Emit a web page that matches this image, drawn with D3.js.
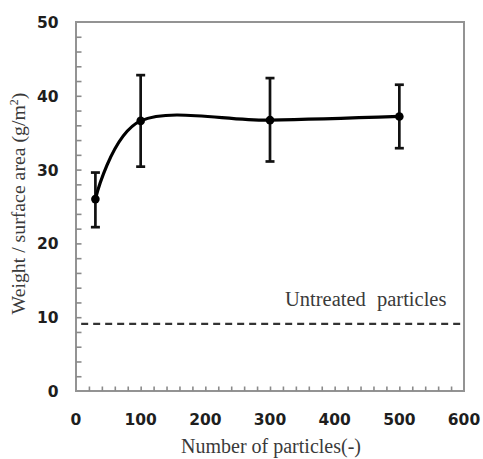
<!DOCTYPE html>
<html>
<head>
<meta charset="utf-8">
<script src="https://cdn.jsdelivr.net/npm/d3@7"></script>
<style>
  html, body { margin: 0; padding: 0; background: #fff; }
  svg { display: block; }
</style>
</head>
<body>
<svg id="chart" width="483" height="459"></svg>
<script>
// ---- data ----
const particles = [30, 100, 300, 500];
const weightPerArea = [26.0, 36.6, 36.7, 37.2];
const errLow = [22.2, 30.4, 31.1, 32.9];
const errHigh = [29.6, 42.8, 42.4, 41.5];
const untreatedValue = 9.1;
const xTickLabels = [0, 100, 200, 300, 400, 500, 600];
const yTickLabels = [0, 10, 20, 30, 40, 50];
const xTitle = "Number of particles(-)";
const yTitle = "Weight / surface area (g/m";
const untreatedLabel = ["Untreated", "particles"];

// ---- layout ----
const svg = d3.select("#chart");
const x = d3.scaleLinear().domain([0, 600]).range([76, 464]);
const y = d3.scaleLinear().domain([0, 50]).range([391, 22]);
const axisColor = "#939393";
const serif = "'Liberation Serif', 'Times New Roman', serif";
const sans = "'DejaVu Sans', Verdana, sans-serif";

// frame
svg.append("rect")
  .attr("x", x(0)).attr("y", y(50))
  .attr("width", x(600) - x(0)).attr("height", y(0) - y(50))
  .attr("fill", "none").attr("stroke", axisColor).attr("stroke-width", 2);

// minor ticks (inward)
const gx = svg.append("g").attr("transform", `translate(0,${y(0)})`)
  .call(d3.axisBottom(x).tickValues(d3.range(20, 600, 20)).tickSize(-4.5).tickFormat(""));
const gy = svg.append("g").attr("transform", `translate(${x(0)},0)`)
  .call(d3.axisLeft(y).tickValues(d3.range(2, 50, 2)).tickSize(-5.5).tickFormat(""));
[gx, gy].forEach(g => {
  g.select(".domain").remove();
  g.selectAll(".tick line").attr("stroke", "#8a8a8a").attr("stroke-width", 1.6);
});

// tick labels
svg.append("g").selectAll("text").data(xTickLabels).join("text")
  .attr("x", d => x(d)).attr("y", 424.5)
  .attr("text-anchor", "middle")
  .attr("font-family", sans).attr("font-weight", "bold").attr("font-size", 15.5)
  .attr("fill", "#1e1e1e")
  .text(d => d);
svg.append("g").selectAll("text").data(yTickLabels).join("text")
  .attr("x", 58.5).attr("y", d => y(d) + 6)
  .attr("text-anchor", "end")
  .attr("font-family", sans).attr("font-weight", "bold").attr("font-size", 15.5)
  .attr("fill", "#1e1e1e")
  .text(d => d);

// axis titles
svg.append("text")
  .attr("x", (x(0) + x(600)) / 2 + 1).attr("y", 453)
  .attr("text-anchor", "middle")
  .attr("font-family", serif).attr("font-size", 20).attr("fill", "#3a3a3a")
  .text(xTitle);
const yt = svg.append("text")
  .attr("transform", `translate(25,${(y(0) + y(50)) / 2 - 3}) rotate(-90)`)
  .attr("text-anchor", "middle")
  .attr("font-family", serif).attr("font-size", 19.8).attr("fill", "#3a3a3a");
yt.append("tspan").text(yTitle);
yt.append("tspan").attr("baseline-shift", "super").attr("font-size", 12).text("2");
yt.append("tspan").text(")");

// untreated dashed line
svg.append("line")
  .attr("x1", x(8)).attr("x2", x(600))
  .attr("y1", y(untreatedValue)).attr("y2", y(untreatedValue))
  .attr("stroke", "#333").attr("stroke-width", 2.4)
  .attr("stroke-dasharray", "7,5");
svg.append("text").attr("x", 285).attr("y", 306)
  .attr("font-family", serif).attr("font-size", 20.5).attr("fill", "#3a3a3a")
  .text(untreatedLabel[0]);
svg.append("text").attr("x", 377).attr("y", 306)
  .attr("font-family", serif).attr("font-size", 20.5).attr("fill", "#3a3a3a")
  .text(untreatedLabel[1]);

// data
const pts = particles.map((p, i) => ({ p, v: weightPerArea[i], lo: errLow[i], hi: errHigh[i] }));

// error bars
const eb = svg.append("g").attr("stroke", "#111").attr("stroke-width", 2.7);
eb.selectAll("line.v").data(pts).join("line").attr("class", "v")
  .attr("x1", d => x(d.p)).attr("x2", d => x(d.p))
  .attr("y1", d => y(d.lo)).attr("y2", d => y(d.hi));
eb.selectAll("line.t").data(pts).join("line").attr("class", "t")
  .attr("x1", d => x(d.p) - 4.5).attr("x2", d => x(d.p) + 4.5)
  .attr("y1", d => y(d.hi)).attr("y2", d => y(d.hi));
eb.selectAll("line.b").data(pts).join("line").attr("class", "b")
  .attr("x1", d => x(d.p) - 4.5).attr("x2", d => x(d.p) + 4.5)
  .attr("y1", d => y(d.lo)).attr("y2", d => y(d.lo));

// smooth line
const line = d3.line().x(d => x(d.p)).y(d => y(d.v)).curve(d3.curveCatmullRom.alpha(0));
svg.append("path").datum(pts)
  .attr("d", line).attr("fill", "none")
  .attr("stroke", "#000").attr("stroke-width", 3.2);

// markers
svg.append("g").selectAll("circle").data(pts).join("circle")
  .attr("cx", d => x(d.p)).attr("cy", d => y(d.v)).attr("r", 4.3)
  .attr("fill", "#000");
</script>
</body>
</html>
